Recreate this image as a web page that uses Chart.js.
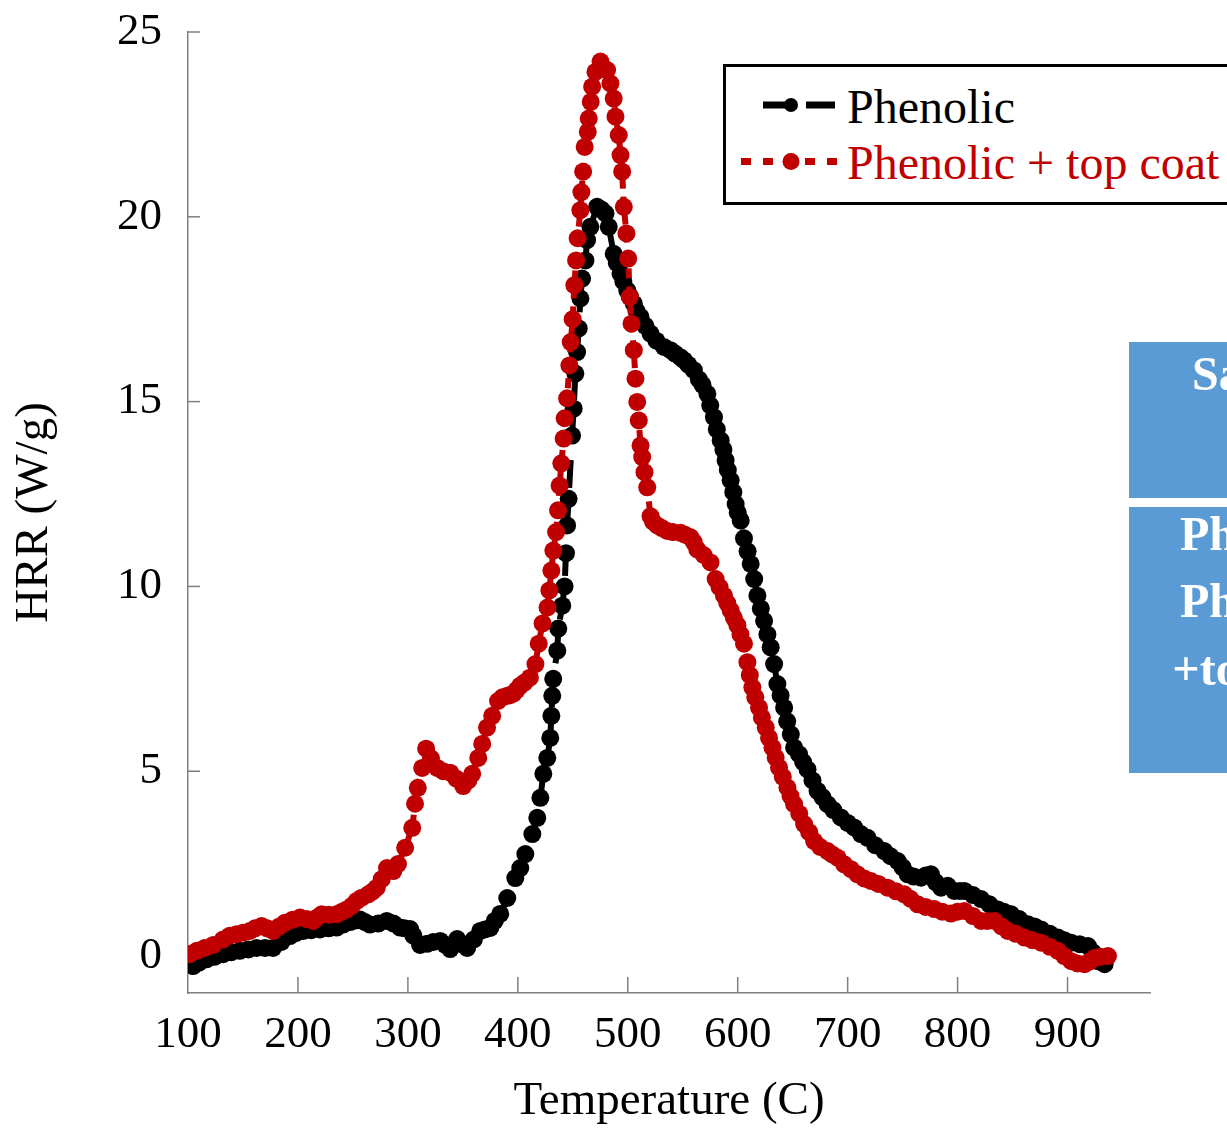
<!DOCTYPE html>
<html>
<head>
<meta charset="utf-8">
<script src="https://cdn.jsdelivr.net/npm/chart.js@4.4.1/dist/chart.umd.min.js"></script>
<style>
html,body{margin:0;padding:0;background:#fff;overflow:hidden;}
#wrap{position:relative;width:1227px;height:1130px;overflow:hidden;background:#fff;}
#c{position:absolute;left:0;top:0;}
.lg{position:absolute;left:723px;top:64px;width:700px;height:141px;box-sizing:border-box;border:3px solid #000;background:#fff;}
.txt{position:absolute;font-family:"Liberation Serif","Times New Roman",serif;white-space:nowrap;line-height:1;}
.cell{position:absolute;background:#5B9BD5;}
.ct{position:absolute;left:1129px;width:278px;text-align:center;color:#fff;font-weight:bold;font-size:48px;font-family:"Liberation Serif","Times New Roman",serif;white-space:nowrap;line-height:1;}
</style>
</head>
<body>
<div id="wrap">
  <canvas id="c" width="1227" height="1130"></canvas>
  <div class="lg"></div>
  <svg style="position:absolute;left:0;top:0" width="1227" height="260">
    <line x1="763" y1="105" x2="791" y2="105" stroke="#000" stroke-width="7"/>
    <circle cx="791" cy="105" r="7" fill="#000"/>
    <line x1="806" y1="105" x2="835" y2="105" stroke="#000" stroke-width="7"/>
    <rect x="741" y="158" width="10" height="7" fill="#C00000"/>
    <rect x="763" y="158" width="10" height="7" fill="#C00000"/>
    <circle cx="791" cy="161.5" r="8.5" fill="#C00000"/>
    <rect x="805" y="158" width="10" height="7" fill="#C00000"/>
    <rect x="827" y="158" width="10" height="7" fill="#C00000"/>
  </svg>
  <div class="txt" style="left:847px;top:83px;font-size:48px;color:#000;">Phenolic</div>
  <div class="txt" style="left:847px;top:139px;font-size:48px;color:#C00000;">Phenolic + top coat</div>
  <div class="cell" style="left:1129px;top:342px;width:300px;height:156px;"></div>
  <div class="cell" style="left:1129px;top:507px;width:300px;height:266px;"></div>
  <div class="ct" style="top:350px;">Sample</div>
  <div class="ct" style="top:510px;">Phenolic</div>
  <div class="ct" style="top:577px;">Phenolic</div>
  <div class="ct" style="top:645px;">+top coat</div>
</div>
<script>
const xTickValues = [100, 200, 300, 400, 500, 600, 700, 800, 900];
const yTickValues = [0, 5, 10, 15, 20, 25];

const phenolicTemp = [
  104.6,110,116.8,124,131.9,139,147.1,155,162.3,170,
  177.4,185,192.7,198,204.8,212,220.0,228,235.2,241,
  247.3,252,256.4,261,265.5,273,280.8,287,292.9,297,
  302.0,305.0,311.1,317.5,323,329.4,334,338.5,344.8,349,
  353.9,360,365.8,370,374.9,379,384.0,390.4,397.7,402.2,
  406.8,413.2,417.7,420.5,423.2,426.8,429.5,430.5,431.3,432.2,
  435.9,436.8,440.4,442.5,443.8,444.8,446.2,449.3,450.8,452.3,
  453.9,455.4,456.9,458.4,461.5,463.0,466.0,472.1,476,479.7,
  482.7,487.2,490,493.4,496,499.5,502,505.5,508,511.6,
  516,520.7,526,532.8,538.9,543,548.0,551.1,555,560.1,
  564.7,568,572.4,575,578.4,581,584.5,587,589.0,591,
  593.6,596,598.1,600,602.7,605.7,609,611.8,615,617.9,
  621,624.0,627,630.0,633.1,636.1,639,642.2,645,648.3,
  651.3,655.8,659.5,663.5,668,672.6,677,681.7,687,693.8,
  700,705.9,712.0,718.1,725,733.3,739,745.5,750,754.6,
  760,766.7,771,775.8,780,784.9,791.0,797.0,802,806.2,
  814,821.4,829,836.6,842,848.7,856,863.9,870,876.0,
  884,891.3,897,903.4,911,918.6,923,927.7,933.7
];
const phenolicHRR = [
  -0.27,-0.18,-0.09,-0.02,0.05,0.10,0.14,0.18,0.22,0.22,
  0.22,0.38,0.54,0.62,0.68,0.70,0.72,0.75,0.77,0.85,
  0.92,0.96,0.99,0.92,0.85,0.88,0.95,0.88,0.77,0.75,
  0.73,0.55,0.30,0.33,0.38,0.41,0.30,0.19,0.46,0.32,
  0.22,0.45,0.68,0.72,0.76,0.95,1.14,1.57,2.11,2.38,
  2.76,3.30,3.74,4.28,4.93,5.36,5.90,6.50,7.04,7.50,
  8.26,8.86,9.48,10.0,10.9,11.65,12.37,14.08,14.81,15.76,
  16.34,16.98,17.79,18.33,18.82,19.37,19.73,20.27,20.20,20.09,
  19.73,19.00,18.75,18.46,18.25,18.01,17.85,17.65,17.45,17.29,
  17.05,16.84,16.65,16.48,16.39,16.30,16.20,16.12,16.00,15.85,
  15.60,15.45,15.21,14.90,14.58,14.25,13.95,13.70,13.41,13.15,
  12.87,12.55,12.23,12.00,11.78,11.30,10.95,10.61,10.20,9.75,
  9.40,9.07,8.70,8.35,7.90,7.36,7.05,6.72,6.35,6.00,
  5.64,5.46,5.25,5.05,4.75,4.47,4.30,4.11,3.95,3.75,
  3.60,3.48,3.30,3.20,3.00,2.84,2.70,2.57,2.40,2.21,
  2.15,2.12,2.18,2.21,2.00,1.85,1.90,1.76,1.76,1.76,
  1.65,1.54,1.40,1.26,1.20,1.13,1.00,0.86,0.80,0.72,
  0.60,0.50,0.43,0.36,0.32,0.27,0.10,-0.14,-0.22
];

const coatTemp = [
  101.5,108,115.2,123,131.9,138,144.1,150,156.2,161,
  166.9,172,177.4,183,188.1,195,201.8,208,213.9,218,
  221.6,228,235.2,240,244.3,249,253.4,258,264.0,268,
  271.7,276.2,281.0,286.8,291.0,297.5,304.0,306.5,309.0,313.0,
  316.6,321,326.6,332,338.5,344,350.3,355,358.5,364.0,
  367.6,372.0,376.7,382.0,386,390.4,393,396.0,399,402.0,
  406,411.0,416.0,419.0,422.5,427.0,428.7,430.5,432.3,434.8,
  436.6,438.0,439.6,441.7,442.6,444.8,446.9,448.1,449.9,451.4,
  453.0,454.4,456.9,457.8,459.4,460.8,463.6,464.5,466.3,467.6,
  470.6,475.2,481.2,484.2,487.2,488.8,491.8,493.4,494.9,496.4,
  498.8,500.4,501.8,503.4,505.5,507.0,508.6,510.0,511.6,513.1,
  515.2,517.7,520.7,523,526.8,531,535.9,541,548.0,552,
  557.1,560,563.2,569,575.3,579.9,583.5,587.5,590.5,593.6,
  596.5,599.7,602.5,605.7,608.8,611,613.3,616,619.4,622,
  625.5,628.5,631.6,634.5,637.6,641,645.2,648,651.3,656,
  660.4,665,669.5,675,681.7,686,690.8,696.8,703,708.9,
  715,721.1,728,736.3,744,751.5,757,763.7,771,778.8,
  786,794.0,800,806.2,814,821.4,827,833.5,840,845.7,
  853,860.8,868,876.0,884,891.3,897,903.4,909,915.5,
  920,924.6,930,936.8
];
const coatHRR = [
  0.05,0.14,0.22,0.30,0.45,0.55,0.59,0.63,0.68,0.75,
  0.81,0.75,0.68,0.80,0.90,0.98,1.04,1.00,0.95,1.05,
  1.13,1.12,1.13,1.20,1.26,1.36,1.49,1.58,1.67,1.75,
  1.85,2.08,2.38,2.30,2.49,2.93,3.47,4.12,4.55,5.09,
  5.61,5.35,5.09,5.00,4.96,4.80,4.60,4.75,4.93,5.36,
  5.74,6.18,6.50,6.90,7.00,7.04,7.06,7.10,7.20,7.31,
  7.40,7.53,7.90,8.45,9.00,9.43,9.89,10.43,10.97,11.47,
  12.06,12.73,13.33,14.00,14.55,15.09,15.98,16.61,17.23,18.15,
  18.82,19.42,20.18,20.67,21.22,21.89,22.30,22.66,23.11,23.52,
  23.92,24.20,23.97,23.61,23.20,22.71,22.21,21.67,21.22,20.27,
  19.55,18.87,17.83,17.11,16.39,15.62,14.99,14.49,13.81,13.50,
  13.09,12.68,11.90,11.75,11.65,11.58,11.50,11.47,11.45,11.40,
  11.33,11.20,11.00,10.85,10.65,10.20,9.98,9.75,9.55,9.35,
  9.15,8.95,8.70,8.45,7.95,7.60,7.27,7.00,6.72,6.45,
  6.18,5.90,5.64,5.37,5.10,4.85,4.56,4.33,4.11,3.85,
  3.57,3.35,3.11,2.95,2.84,2.75,2.66,2.48,2.35,2.21,
  2.10,2.03,1.95,1.85,1.75,1.67,1.55,1.40,1.33,1.27,
  1.20,1.15,1.20,1.22,1.08,0.95,0.95,0.95,0.80,0.68,
  0.60,0.50,0.43,0.36,0.25,0.14,0.00,-0.14,-0.20,-0.22,
  -0.15,-0.05,-0.02,0.00
];

const seriesNames = ['Phenolic', 'Phenolic + top coat'];
const FONT = '"Liberation Serif", "Times New Roman", serif';

const toPoints = (xs, ys) => xs.map((x, i) => ({ x: x, y: ys[i] }));

const innerTicks = {
  id: 'innerTicks',
  beforeDatasetsDraw(chart) {
    const { ctx } = chart;
    const x = chart.scales.x, y = chart.scales.y;
    ctx.save();
    ctx.strokeStyle = '#7f7f7f';
    ctx.lineWidth = 1.5;
    x.ticks.forEach(t => {
      if (t.value === x.min) return;
      const px = x.getPixelForValue(t.value);
      ctx.beginPath(); ctx.moveTo(px, x.top); ctx.lineTo(px, x.top - 16); ctx.stroke();
    });
    y.ticks.forEach(t => {
      const py = y.getPixelForValue(t.value);
      ctx.beginPath(); ctx.moveTo(y.right, py); ctx.lineTo(y.right + 12, py); ctx.stroke();
    });
    ctx.restore();
  }
};

new Chart(document.getElementById('c'), {
  type: 'scatter',
  data: {
    datasets: [
      {
        label: seriesNames[0],
        data: toPoints(phenolicTemp, phenolicHRR),
        showLine: true,
        borderColor: '#000000',
        backgroundColor: '#000000',
        borderWidth: 6,
        borderDash: [28, 16],
        pointRadius: 9,
        pointHoverRadius: 9,
        pointBorderWidth: 0,
        pointBackgroundColor: '#000000',
        tension: 0,
        order: 2
      },
      {
        label: seriesNames[1],
        data: toPoints(coatTemp, coatHRR),
        showLine: true,
        borderColor: '#C00000',
        backgroundColor: '#C00000',
        borderWidth: 6,
        borderDash: [10, 8],
        pointRadius: 9,
        pointHoverRadius: 9,
        pointBorderWidth: 0,
        pointBackgroundColor: '#C00000',
        tension: 0,
        order: 1
      }
    ]
  },
  options: {
    responsive: false,
    animation: false,
    devicePixelRatio: 1,
    layout: { padding: { left: 0, right: 77, top: 32, bottom: 0 } },
    plugins: { legend: { display: false }, tooltip: { enabled: false } },
    scales: {
      x: {
        type: 'linear',
        min: 100,
        max: 975,
        afterBuildTicks: s => { s.ticks = xTickValues.map(v => ({ value: v })); },
        afterFit: s => { s.height = 137; s.paddingLeft = 0; s.paddingRight = 0; },
        grid: { display: false, drawTicks: false },
        border: { display: true, color: '#7f7f7f', width: 1.5 },
        ticks: { font: { family: FONT, size: 45 }, color: '#000', padding: 15, maxRotation: 0, autoSkip: false },
        title: { display: true, text: 'Temperature (C)', font: { family: FONT, size: 47 }, color: '#000', padding: { top: 0, bottom: 0 } }
      },
      y: {
        type: 'linear',
        min: -1,
        max: 25,
        afterBuildTicks: s => { s.ticks = yTickValues.map(v => ({ value: v })); },
        afterFit: s => { s.width = 188; s.paddingTop = 0; s.paddingBottom = 0; },
        grid: { display: false, drawTicks: false },
        border: { display: true, color: '#7f7f7f', width: 1.5 },
        ticks: { font: { family: FONT, size: 45 }, color: '#000', padding: 26 },
        title: { display: true, text: 'HRR (W/g)', font: { family: FONT, size: 47 }, color: '#000', padding: { top: 6, bottom: 0 } }
      }
    }
  },
  plugins: [innerTicks]
});
</script>
</body>
</html>
